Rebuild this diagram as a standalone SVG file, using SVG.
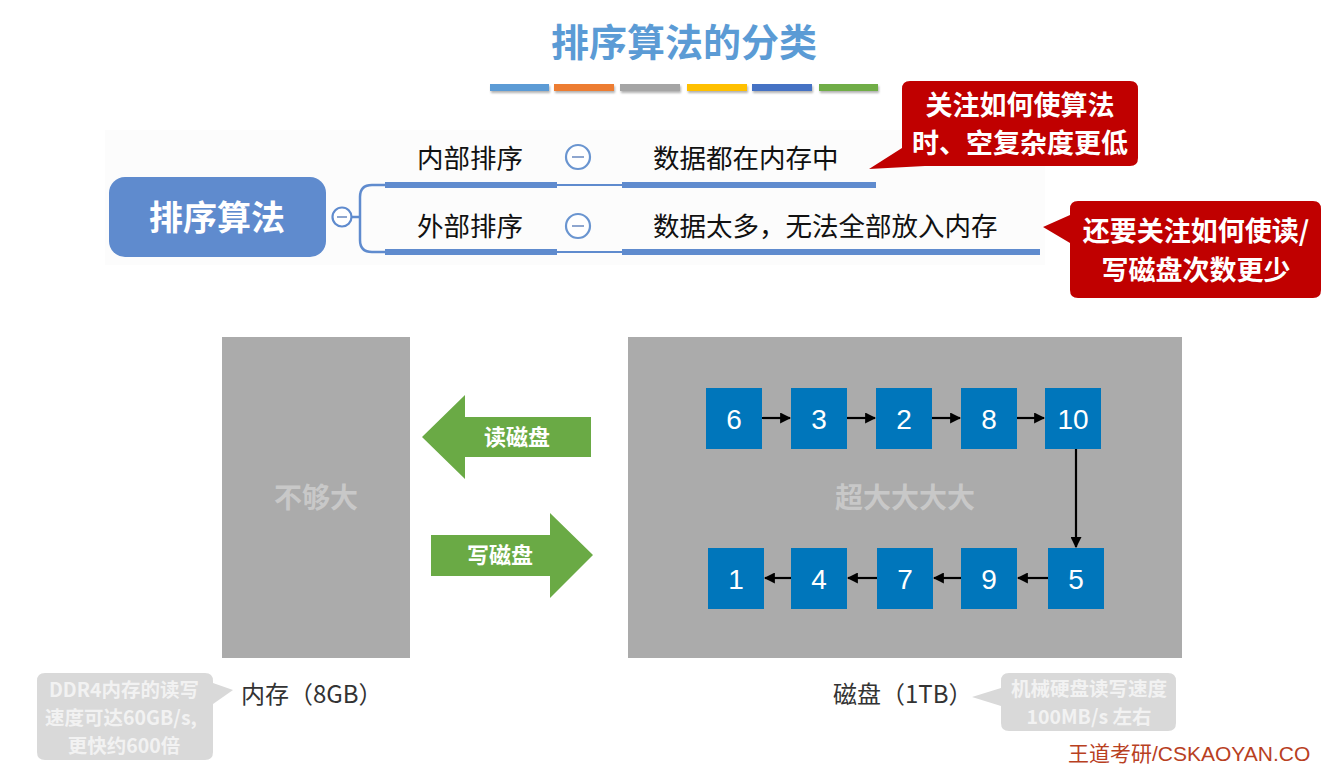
<svg xmlns="http://www.w3.org/2000/svg" width="1329" height="766" viewBox="0 0 1329 766">
<defs>
<style>
.cjk{font-family:"Noto Sans CJK SC","Liberation Sans",sans-serif}
.lat{font-family:"Liberation Sans","Noto Sans CJK SC",sans-serif}
.num{font-family:"Liberation Sans","Noto Sans CJK SC",sans-serif;font-size:28px;fill:#fff;text-anchor:middle;dominant-baseline:central}
.node rect{fill:#0076bb}
.bar{fill:#5f8bce}
.lbl{font-size:26.5px;fill:#111}
.callout{fill:#c00000}
.ctext{font-size:27px;font-weight:bold;fill:#fff;text-anchor:middle}
.gtext{font-size:19.5px;font-weight:bold;fill:#f2f2f2;text-anchor:middle}
.edge{stroke:#000;stroke-width:2.2;fill:none;marker-end:url(#ah)}
</style>
<marker id="ah" viewBox="0 0 10 10" refX="9" refY="5" markerWidth="5" markerHeight="5" orient="auto" markerUnits="strokeWidth">
<path d="M0,0 L10,5 L0,10 z" fill="#000"/>
</marker>
<filter id="sh" x="-10%" y="-50%" width="120%" height="250%"><feDropShadow dx="1" dy="2" stdDeviation="1.2" flood-color="#000" flood-opacity="0.3"/></filter>
</defs>
<rect width="1329" height="766" fill="#fff"/>

<g id="title">
<text x="684" y="56" class="cjk" font-size="38" font-weight="bold" fill="#5b9bd5" text-anchor="middle">排序算法的分类</text>
<g filter="url(#sh)">
<rect x="490" y="84" width="59" height="7" fill="#5b9bd5"/>
<rect x="554" y="84" width="60" height="7" fill="#ed7d31"/>
<rect x="620" y="84" width="60" height="7" fill="#a5a5a5"/>
<rect x="687" y="84" width="60" height="7" fill="#ffc000"/>
<rect x="752" y="84" width="60" height="7" fill="#4472c4"/>
<rect x="819" y="84" width="59" height="7" fill="#70ad47"/>
</g>
</g>

<rect x="105" y="130" width="940" height="135" fill="#fcfcfc"/>

<g id="mindmap-connectors">
<path d="M351,217 H360 M372,185 Q360,185 360,197 V240 Q360,252 372,252 H386 M372,185 H386" stroke="#5f8bce" stroke-width="2.5" fill="none"/>
<rect class="bar" x="385" y="182" width="172" height="6"/>
<rect class="bar" x="385" y="249" width="172" height="6"/>
<line x1="557" y1="185" x2="622" y2="185" stroke="#5f8bce" stroke-width="2"/>
<line x1="557" y1="252" x2="622" y2="252" stroke="#5f8bce" stroke-width="2"/>
<rect class="bar" x="622" y="182" width="254" height="6"/>
<rect class="bar" x="622" y="249" width="418" height="6"/>
</g>

<g id="root">
<rect x="109" y="177" width="217" height="80" rx="16" fill="#5f8bce"/>
<text x="217" y="230" class="cjk" font-size="34" font-weight="bold" fill="#fff" text-anchor="middle">排序算法</text>
<circle cx="342" cy="217" r="9.5" fill="#fff" stroke="#5f8bce" stroke-width="2.2"/>
<line x1="337" y1="217" x2="347" y2="217" stroke="#8ea6cf" stroke-width="2"/>
</g>

<g id="internal">
<text x="417" y="168" class="cjk lbl">内部排序</text>
<circle cx="578" cy="157" r="12" fill="#fff" stroke="#6a95d0" stroke-width="2.2"/>
<line x1="572" y1="157" x2="584" y2="157" stroke="#8ea6cf" stroke-width="2"/>
<text x="653" y="168" class="cjk lbl">数据都在内存中</text>
</g>

<g id="external">
<text x="417" y="236" class="cjk lbl">外部排序</text>
<circle cx="578" cy="226" r="12" fill="#fff" stroke="#6a95d0" stroke-width="2.2"/>
<line x1="572" y1="226" x2="584" y2="226" stroke="#8ea6cf" stroke-width="2"/>
<text x="653" y="236" class="cjk lbl">数据太多，无法全部放入内存</text>
</g>

<g id="callout1">
<path class="callout" d="M910,81 H1130 Q1138,81 1138,89 V158 Q1138,166 1130,166 H925 L869,169 L902,148 V89 Q902,81 910,81 Z"/>
<text x="1020" y="115" class="cjk ctext">关注如何使算法</text>
<text x="1020" y="153" class="cjk ctext">时、空复杂度更低</text>
</g>

<g id="callout2">
<path class="callout" d="M1078,201 H1313 Q1321,201 1321,209 V290 Q1321,298 1313,298 H1078 Q1070,298 1070,290 V243 L1043,227 L1070,215 V209 Q1070,201 1078,201 Z"/>
<text x="1196" y="241" class="cjk ctext">还要关注如何使读/</text>
<text x="1196" y="280" class="cjk ctext">写磁盘次数更少</text>
</g>

<g id="memory">
<rect x="222" y="337" width="188" height="321" fill="#ababab"/>
<text x="316" y="508" class="cjk" font-size="28" font-weight="bold" fill="#c8c8c8" text-anchor="middle">不够大</text>
<text x="241" y="703" class="cjk" font-size="24" fill="#333">内存（8GB）</text>
</g>

<g id="disk">
<rect x="628" y="337" width="554" height="321" fill="#ababab"/>
<text x="905" y="508" class="cjk" font-size="28" font-weight="bold" fill="#c8c8c8" text-anchor="middle">超大大大大</text>
<text x="833" y="703" class="cjk" font-size="24" fill="#333">磁盘（1TB）</text>
</g>

<g id="read-arrow">
<path d="M422,437 L465,395 V417 H591 V457 H465 V479 Z" fill="#6aaa45"/>
<text x="517" y="445" class="cjk" font-size="22" font-weight="bold" fill="#fff" text-anchor="middle">读磁盘</text>
</g>
<g id="write-arrow">
<path d="M431,535 H550 V513 L593,555 L550,598 V576 H431 Z" fill="#6aaa45"/>
<text x="500" y="563" class="cjk" font-size="22" font-weight="bold" fill="#fff" text-anchor="middle">写磁盘</text>
</g>

<g id="n6" class="node"><rect x="706" y="388" width="56" height="61"/><text x="734" y="419" class="num">6</text></g>
<g id="n3" class="node"><rect x="791" y="388" width="56" height="61"/><text x="819" y="419" class="num">3</text></g>
<g id="n2" class="node"><rect x="876" y="388" width="56" height="61"/><text x="904" y="419" class="num">2</text></g>
<g id="n8" class="node"><rect x="961" y="388" width="56" height="61"/><text x="989" y="419" class="num">8</text></g>
<g id="n10" class="node"><rect x="1045" y="388" width="56" height="61"/><text x="1073" y="419" class="num">10</text></g>
<g id="n5" class="node"><rect x="1048" y="548" width="56" height="61"/><text x="1076" y="579" class="num">5</text></g>
<g id="n9" class="node"><rect x="961" y="548" width="56" height="61"/><text x="989" y="579" class="num">9</text></g>
<g id="n7" class="node"><rect x="877" y="548" width="56" height="61"/><text x="905" y="579" class="num">7</text></g>
<g id="n4" class="node"><rect x="791" y="548" width="56" height="61"/><text x="819" y="579" class="num">4</text></g>
<g id="n1" class="node"><rect x="708" y="548" width="56" height="61"/><text x="736" y="579" class="num">1</text></g>

<g id="connectors">
<line class="edge" x1="762" y1="418" x2="790" y2="418"/>
<line class="edge" x1="847" y1="418" x2="875" y2="418"/>
<line class="edge" x1="932" y1="418" x2="960" y2="418"/>
<line class="edge" x1="1017" y1="418" x2="1044" y2="418"/>
<line class="edge" x1="1076" y1="449" x2="1076" y2="547"/>
<line class="edge" x1="1048" y1="578" x2="1018" y2="578"/>
<line class="edge" x1="961" y1="578" x2="934" y2="578"/>
<line class="edge" x1="877" y1="578" x2="848" y2="578"/>
<line class="edge" x1="791" y1="578" x2="765" y2="578"/>
</g>

<g id="ddr-callout">
<path d="M45,673 H205 Q213,673 213,681 V683 L233,690 L213,704 V752 Q213,760 205,760 H45 Q37,760 37,752 V681 Q37,673 45,673 Z" fill="#d9d9d9"/>
<text x="124" y="697" class="cjk gtext">DDR4内存的读写</text>
<text x="121" y="725" class="cjk gtext">速度可达60GB/s,</text>
<text x="124" y="753" class="cjk gtext">更快约600倍</text>
</g>

<g id="hdd-callout">
<path d="M1009,673 H1168 Q1176,673 1176,681 V723 Q1176,731 1168,731 H1009 Q1001,731 1001,723 V706 L972,697 L1001,688 V681 Q1001,673 1009,673 Z" fill="#d9d9d9"/>
<text x="1089" y="696" class="cjk gtext">机械硬盘读写速度</text>
<text x="1089" y="724" class="cjk gtext">100MB/s 左右</text>
</g>

<text x="1068" y="761" class="lat" font-size="21" fill="#b8401f">王道考研/CSKAOYAN.CO</text>
</svg>
